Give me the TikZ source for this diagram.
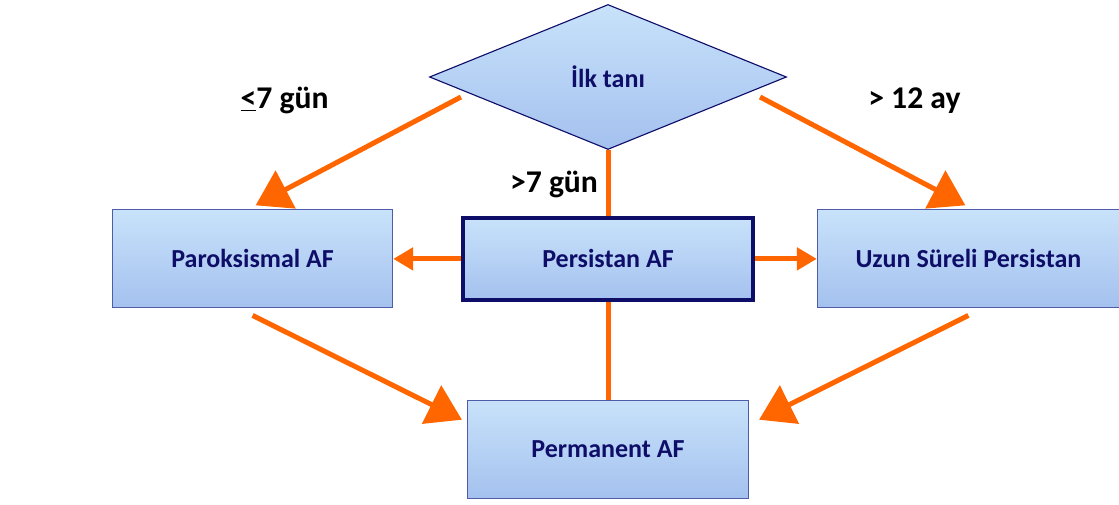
\documentclass[tikz,border=0pt]{standalone}
\usepackage{fontspec}
\setmainfont{Carlito}
\usepackage{xcolor}
\usetikzlibrary{shapes.geometric, arrows.meta, positioning, calc}
\definecolor{afnavy}{RGB}{14,14,105}
\definecolor{afedge}{RGB}{78,92,170}
\definecolor{aftop}{RGB}{200,226,250}
\definecolor{afbot}{RGB}{164,193,239}
\definecolor{aforange}{RGB}{255,102,0}
\tikzset{
  stage/.style={rectangle, draw=afedge, line width=0.8pt, top color=aftop, bottom color=afbot,
                minimum width=7cm, minimum height=2.45cm, align=center,
                text=afnavy, font=\fontsize{18.5}{22}\selectfont\bfseries},
  current/.style={stage, draw=afnavy, line width=2.6pt, minimum width=7.25cm, minimum height=2.05cm},
  decision/.style={diamond, draw=afnavy, line width=0.8pt, top color=aftop, bottom color=afbot,
                   minimum width=8.925cm, minimum height=3.625cm, inner sep=1pt,
                   text=afnavy, font=\fontsize{18.5}{22}\selectfont\bfseries},
  cond/.style={font=\fontsize{22.5}{26}\selectfont\bfseries, text=black, inner sep=1pt},
  link/.style={draw=aforange, line width=0.125cm},
  bigarrow/.style={link, -{Triangle[length=0.85cm,width=1.05cm]}},
  smallarrow/.style={link, -{Triangle[length=0.5cm,width=0.55cm]}},
}

\begin{document}
\begin{tikzpicture}
  \useasboundingbox (0,0) rectangle (27.975,-12.625);

  \node[decision] (ilk) at (15.2,-1.925) {İlk tanı};
  \node[current, below=1.65cm of ilk] (pers)   {Persistan AF};
  \node[stage, left=1.7cm of pers]     (paroks) {Paroksismal AF};
  \node[stage, right=1.55cm of pers, minimum width=7.55cm] (uzun) {Uzun Süreli Persistan};
  \node[stage, below=2.45cm of pers, minimum width=7.025cm] (perm) {Permanent AF};

  \node[cond] (kisa)  at ($(paroks.north)+(0.8,2.725)$)  {\underline{<}7 gün};
  \node[cond] (uzunl) at ($(pers.north)+(-1.35,0.8)$)   {>7 gün};
  \node[cond] (yil)   at ($(uzun.north)+(-1.35,2.725)$)  {> 12 ay};

  \draw[bigarrow] ([xshift=0.8cm,yshift=-0.5cm]ilk.west) -- ([xshift=0.075cm,yshift=0.1cm]paroks.north);
  \draw[bigarrow] ([xshift=-0.675cm,yshift=-0.5cm]ilk.east) -- ([xshift=-0.075cm,yshift=0.1cm]uzun.north);
  \draw[link] (ilk.south) -- (pers.north);
  \draw[smallarrow] (pers.west) -- (paroks.east);
  \draw[smallarrow] (pers.east) -- (uzun.west);
  \draw[link] (pers.south) -- (perm.north);
  \draw[bigarrow] ([yshift=-0.175cm]paroks.south) -- ([xshift=-0.125cm,yshift=-0.5cm]perm.north west);
  \draw[bigarrow] ([yshift=-0.175cm]uzun.south) -- ([xshift=0.25cm,yshift=-0.5cm]perm.north east);
\end{tikzpicture}
\end{document}
